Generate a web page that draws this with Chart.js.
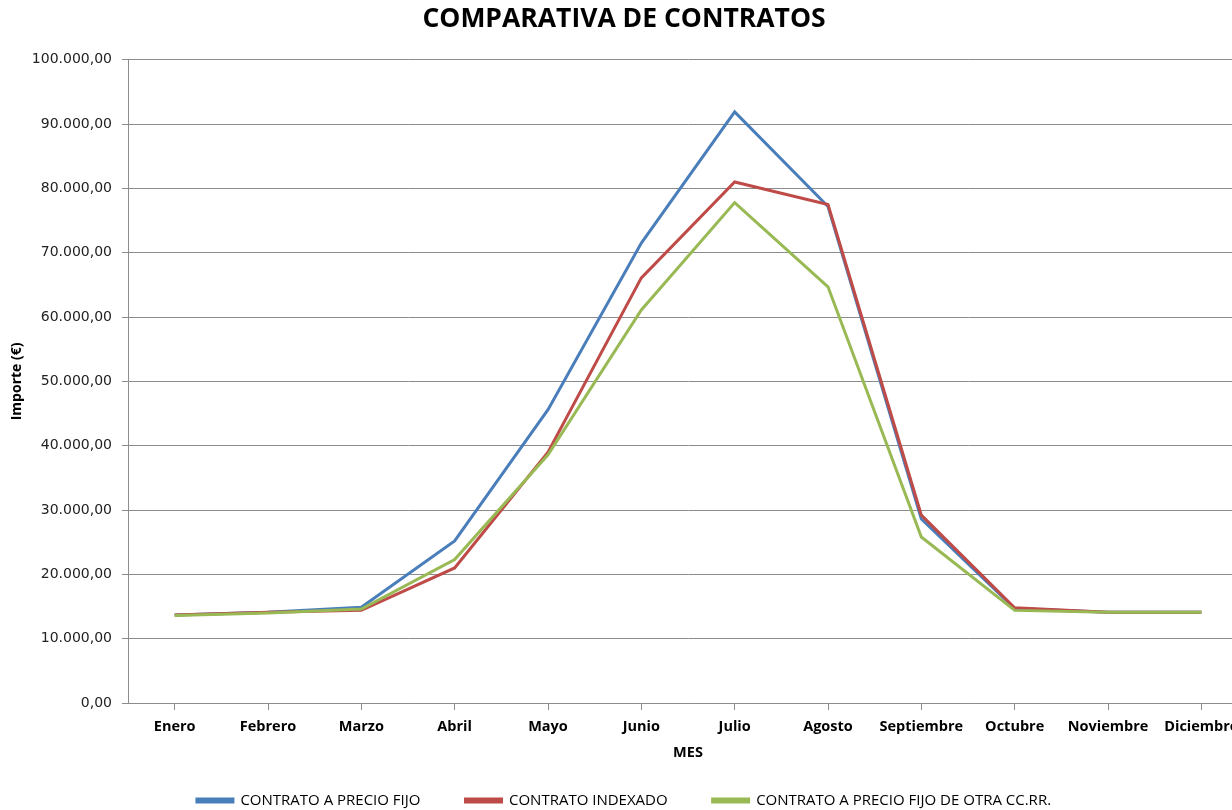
<!DOCTYPE html>
<html>
<head>
<meta charset="utf-8">
<script src="https://cdn.jsdelivr.net/npm/chart.js@4/dist/chart.umd.min.js"></script>
<style>
  html, body { margin: 0; padding: 0; background: #fff; overflow: hidden; }
  #wrap { position: absolute; left: 0; top: 0; width: 1254px; height: 810px; }
</style>
</head>
<body>
<div id="wrap"><canvas id="chart"></canvas></div>
<script>
// data
const MONTHS = ['Enero','Febrero','Marzo','Abril','Mayo','Junio','Julio','Agosto','Septiembre','Octubre','Noviembre','Diciembre'];
const PRECIO_FIJO = [13700, 14100, 14900, 25200, 45600, 71500, 91900, 77200, 28600, 14700, 14100, 14100];
const INDEXADO    = [13700, 14100, 14400, 21000, 39000, 66100, 81000, 77500, 29200, 14800, 14100, 14100];
const OTRA_CCRR   = [13600, 14000, 14600, 22300, 38600, 61100, 77800, 64700, 25800, 14400, 14100, 14100];
const Y_MIN = 0, Y_MAX = 100000, Y_STEP = 10000;

const GRID = '#8c8c8c';
const LEGEND_H = 62;

function fmtEs(v){
  const int = Math.round(v).toString().replace(/\B(?=(\d{3})+(?!\d))/g, '.');
  return int + ',00';
}

function series(label, data, color, order){
  return { label, data, borderColor: color, backgroundColor: color, borderWidth: 3,
           pointRadius: 0, pointHoverRadius: 0, tension: 0, order };
}

// fixed legend height so the plot area lands where the original has it
const legendHeight = {
  id: 'legendHeight',
  afterInit(chart){
    const lg = chart.legend;
    if(!lg || lg._patched) return;
    const fit = lg.fit;
    lg.fit = function(){ fit.call(this); this.height = LEGEND_H; };
    lg._patched = true;
  }
};

new Chart(document.getElementById('chart'), {
  type: 'line',
  data: {
    labels: MONTHS,
    datasets: [
      series('CONTRATO A PRECIO FIJO', PRECIO_FIJO, '#4a7ebb', 3),
      series('CONTRATO INDEXADO', INDEXADO, '#be4b48', 2),
      series('CONTRATO A PRECIO FIJO DE OTRA CC.RR.', OTRA_CCRR, '#98b954', 1)
    ]
  },
  plugins: [legendHeight],
  options: {
    responsive: true,
    maintainAspectRatio: false,
    animation: false,
    layout: { padding: { left: 0, right: 6, top: 0, bottom: 0 } },
    plugins: {
      title: {
        display: true,
        text: 'COMPARATIVA DE CONTRATOS',
        color: '#000',
        font: { family: 'Open Sans', size: 26.5, weight: 'bold' },
        padding: { top: 4, bottom: 24 }
      },
      legend: {
        position: 'bottom',
        labels: {
          color: '#000',
          font: { family: 'Open Sans', size: 15 },
          boxWidth: 36,
          boxHeight: 3,
          padding: 45,
          sort: (a, b) => a.datasetIndex - b.datasetIndex
        }
      },
      tooltip: { enabled: false }
    },
    scales: {
      x: {
        offset: true,
        afterFit: s => { s.height = 45; },
        grid: { drawOnChartArea: false, tickLength: 7, color: GRID, offset: false },
        border: { color: GRID },
        ticks: { color: '#000', font: { family: 'Open Sans', size: 14.5, weight: 'bold' }, maxRotation: 0, autoSkip: false, padding: 8 },
        title: { display: true, text: 'MES', color: '#000', font: { family: 'Open Sans', size: 14.5, weight: 'bold' }, padding: { top: 0, bottom: -14 } }
      },
      y: {
        min: Y_MIN, max: Y_MAX,
        afterFit: s => { s.width = 128; },
        grid: { color: GRID, tickLength: 6 },
        border: { color: GRID },
        ticks: { stepSize: Y_STEP, color: '#222', font: { family: 'DejaVu Sans', size: 14 }, padding: 10, callback: v => fmtEs(v) },
        title: { display: true, text: 'Importe (€)', color: '#000', font: { family: 'Open Sans', size: 14, weight: 'bold' }, padding: { top: 9 } }
      }
    }
  }
});
</script>
</body>
</html>
